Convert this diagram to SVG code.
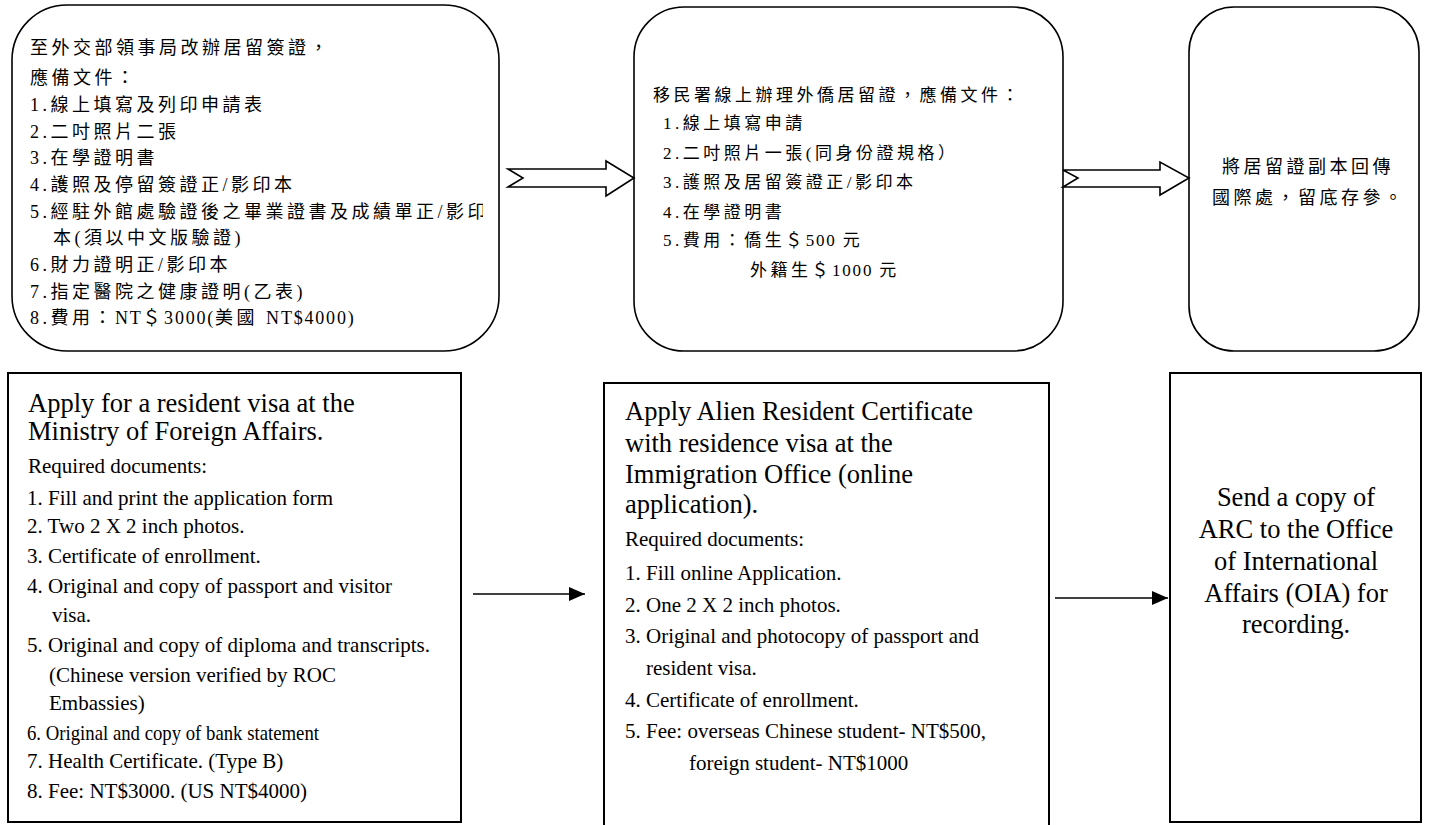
<svg xmlns="http://www.w3.org/2000/svg" width="1429" height="825" viewBox="0 0 1429 825">
<style>
.box{fill:#fff;stroke:#000;stroke-width:1.6}
.sbox{fill:#fff;stroke:#000;stroke-width:2}
.zh{font-family:"Liberation Serif","Noto Sans CJK TC",serif;font-size:18px;letter-spacing:3.5px;fill:#000}
.zm{font-family:"Liberation Serif","Noto Sans CJK TC",serif;font-size:17px;letter-spacing:3.5px;fill:#000}
.lat{letter-spacing:1.8px}
.en{font-family:"Liberation Serif",serif;font-size:21px;fill:#000}
.hd{font-family:"Liberation Serif",serif;font-size:26.5px;fill:#000}
.conn{stroke:#000;stroke-width:1.6;fill:none}
.hollow{fill:#fff;stroke:#000;stroke-width:1.6;stroke-linejoin:miter}
</style>
<defs>
<marker id="ah" markerUnits="userSpaceOnUse" markerWidth="17" markerHeight="16" refX="16" refY="7" orient="auto">
<path d="M0,0 L16,7 L0,14 z" fill="#000"/>
</marker>
<clipPath id="clipA"><rect x="0" y="0" width="483" height="360"/></clipPath>
</defs>
<rect width="1429" height="825" fill="#fff"/>

<g id="node-zh-visa">
<rect class="box" x="12" y="5" width="487" height="346" rx="55" ry="55"/>
<g clip-path="url(#clipA)">
<text class="zh" x="30" y="54">至外交部領事局改辦居留簽證，</text>
<text class="zh" x="30" y="84">應備文件：</text>
<text class="zh" x="30" y="111">1.線上填寫及列印申請表</text>
<text class="zh" x="30" y="138">2.二吋照片二張</text>
<text class="zh" x="30" y="164">3.在學證明書</text>
<text class="zh" x="30" y="191">4.護照及停留簽證正/影印本</text>
<text class="zh" x="30" y="218">5.經駐外館處驗證後之畢業證書及成績單正/影印</text>
<text class="zh" x="53" y="244">本(須以中文版驗證)</text>
<text class="zh" x="30" y="271">6.財力證明正/影印本</text>
<text class="zh" x="30" y="298">7.指定醫院之健康證明(乙表)</text>
<text class="zh" x="30" y="324">8.費用：<tspan class="lat">NT</tspan>＄<tspan class="lat">3000(</tspan>美國 <tspan class="lat">NT$4000)</tspan></text>
</g>
</g>

<g id="node-zh-arc">
<rect class="box" x="634" y="7" width="429" height="344" rx="50" ry="50"/>
<text class="zm" x="653" y="101">移民署線上辦理外僑居留證，應備文件：</text>
<text class="zm" x="663" y="129">1.線上填寫申請</text>
<text class="zm" x="663" y="159">2.二吋照片一張(同身份證規格）</text>
<text class="zm" x="663" y="188">3.護照及居留簽證正/影印本</text>
<text class="zm" x="663" y="218">4.在學證明書</text>
<text class="zm" x="663" y="246">5.費用：僑生＄<tspan class="lat">500 </tspan>元</text>
<text class="zm" x="750" y="276">外籍生＄<tspan class="lat">1000 </tspan>元</text>
</g>

<g id="node-zh-copy">
<rect class="box" x="1189" y="7" width="230" height="344" rx="45" ry="45"/>
<text class="zh" x="1222" y="173">將居留證副本回傳</text>
<text class="zh" x="1212" y="204">國際處，留底存參。</text>
</g>

<g id="node-en-visa">
<rect class="sbox" x="8" y="373" width="453" height="449"/>
<text class="hd" x="28" y="412">Apply for a resident visa at the</text>
<text class="hd" x="28" y="440">Ministry of Foreign Affairs.</text>
<text class="en" x="28" y="473">Required documents:</text>
<text class="en" x="27" y="505">1. Fill and print the application form</text>
<text class="en" x="27" y="533">2. Two 2 X 2 inch photos.</text>
<text class="en" x="27" y="563">3. Certificate of enrollment.</text>
<text class="en" x="27" y="593">4. Original and copy of passport and visitor</text>
<text class="en" x="52" y="622">visa.</text>
<text class="en" x="27" y="652">5. Original and copy of diploma and transcripts.</text>
<text class="en" x="49" y="682">(Chinese version verified by ROC</text>
<text class="en" x="49" y="710">Embassies)</text>
<text class="en" x="27" y="740" textLength="292" lengthAdjust="spacingAndGlyphs">6. Original and copy of bank statement</text>
<text class="en" x="27" y="768">7. Health Certificate. (Type B)</text>
<text class="en" x="27" y="798">8. Fee: NT$3000. (US NT$4000)</text>
</g>

<g id="node-en-arc">
<rect class="sbox" x="604" y="383" width="445" height="450"/>
<text class="hd" x="625" y="420">Apply Alien Resident Certificate</text>
<text class="hd" x="625" y="452">with residence visa at the</text>
<text class="hd" x="625" y="483">Immigration Office (online</text>
<text class="hd" x="625" y="513">application).</text>
<text class="en" x="625" y="546">Required documents:</text>
<text class="en" x="625" y="580">1. Fill online Application.</text>
<text class="en" x="625" y="612">2. One 2 X 2 inch photos.</text>
<text class="en" x="625" y="643">3. Original and photocopy of passport and</text>
<text class="en" x="646" y="675">resident visa.</text>
<text class="en" x="625" y="707">4. Certificate of enrollment.</text>
<text class="en" x="625" y="738">5. Fee: overseas Chinese student- NT$500,</text>
<text class="en" x="689" y="770">foreign student- NT$1000</text>
</g>

<g id="node-en-copy">
<rect class="sbox" x="1170" y="373" width="251" height="449"/>
<g text-anchor="middle">
<text class="hd" x="1296" y="506">Send a copy of</text>
<text class="hd" x="1296" y="538">ARC to the Office</text>
<text class="hd" x="1296" y="570">of International</text>
<text class="hd" x="1296" y="602">Affairs (OIA) for</text>
<text class="hd" x="1296" y="633">recording.</text>
</g>
</g>

<g id="connectors">
<polygon class="hollow" points="508,169 606,169 606,161 634,178 606,196 606,187 508,187 523,178"/>
<polygon class="hollow" points="1063,170 1160,170 1160,162 1189,178 1160,195 1160,187 1063,187 1078,178"/>
<line class="conn" x1="473" y1="594" x2="585" y2="594" marker-end="url(#ah)"/>
<line class="conn" x1="1055" y1="598" x2="1168" y2="598" marker-end="url(#ah)"/>
</g>
</svg>
